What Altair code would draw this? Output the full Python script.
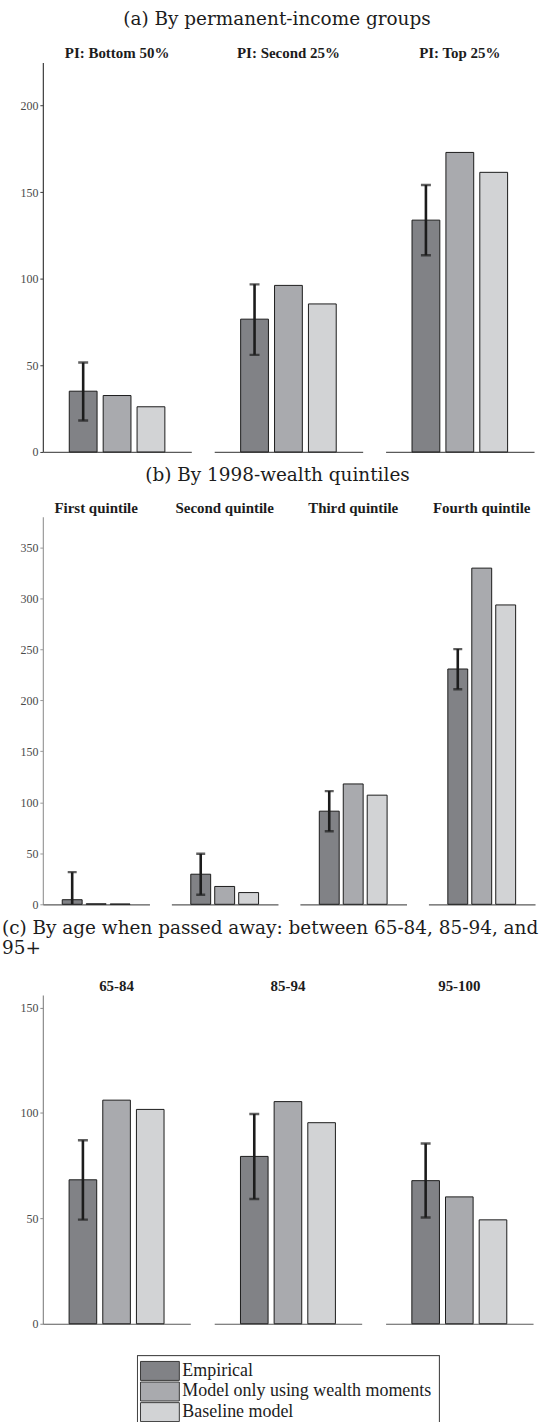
import altair as alt
import pandas as pd

# Series shown in every panel
series = ["Empirical", "Model only using wealth moments", "Baseline model"]
fills = ["#818286", "#a9aaae", "#d2d3d5"]

# (a) permanent-income groups
groups_a = ["PI: Bottom 50%", "PI: Second 25%", "PI: Top 25%"]
emp_a = [35.1, 76.7, 133.9]
emp_lo_a = [18.2, 56.1, 113.6]
emp_hi_a = [51.7, 96.8, 154.2]
model_a = [32.6, 96.2, 173.0]
base_a = [26.1, 85.5, 161.5]

# (b) 1998-wealth quintiles
groups_b = ["First quintile", "Second quintile", "Third quintile", "Fourth quintile"]
emp_b = [4.5, 29.5, 91.3, 230.7]
emp_lo_b = [-22.5, 9.4, 71.6, 210.9]
emp_hi_b = [31.5, 49.6, 111.0, 250.2]
model_b = [0.5, 17.5, 118.0, 329.6]
base_b = [0.3, 11.5, 107.0, 293.5]

# (c) age at death
groups_c = ["65-84", "85-94", "95-100"]
emp_c = [68.3, 79.4, 67.9]
emp_lo_c = [49.4, 59.2, 50.4]
emp_hi_c = [87.1, 99.5, 85.5]
model_c = [106.1, 105.4, 60.2]
base_c = [101.7, 95.4, 49.3]

SERIF = "Liberation Serif"
TITLE_FONT = "DejaVu Serif"
INK = "#1c1c1c"


def frame(groups, emp, lo, hi, model, base):
    rows = []
    for i, g in enumerate(groups):
        for s, v in zip(series, (emp[i], model[i], base[i])):
            is_emp = s == series[0]
            rows.append({"group": g, "series": s, "value": v,
                         "lo": lo[i] if is_emp else None,
                         "hi": hi[i] if is_emp else None})
    return pd.DataFrame(rows)


def section(df, groups, cell_w, cell_h, spacing, ymax, yticks,
            y_line, pad_outer, pad_inner, cap, title_params):
    x = alt.X("series:N", sort=series,
              scale=alt.Scale(paddingInner=pad_inner, paddingOuter=pad_outer),
              axis=alt.Axis(title=None, labels=False, ticks=False,
                            domainColor="#5a5a5a", domainWidth=1.2, grid=False))
    yscale = alt.Scale(domain=[0, ymax], nice=False, zero=True)
    bars = alt.Chart().mark_bar(stroke=INK, strokeWidth=1).encode(
        x=x,
        y=alt.Y("value:Q", scale=yscale,
                axis=alt.Axis(title=None, values=yticks, grid=False,
                              domainColor=y_line, domainWidth=1.2,
                              tickColor=y_line, tickSize=3, tickWidth=1,
                              labelFont=SERIF, labelFontSize=12,
                              labelColor="#4a4a4a", labelPadding=2)),
        color=alt.Color("series:N", sort=series,
                        scale=alt.Scale(domain=series, range=fills), legend=None),
    )
    emp_only = alt.datum.series == series[0]
    err = alt.Chart().transform_filter(emp_only).mark_rule(
        color=INK, strokeWidth=2.6, clip=True).encode(
        x=alt.X("series:N", sort=series), y=alt.Y("lo:Q", scale=yscale), y2="hi:Q")
    cap_lo = alt.Chart().transform_filter(emp_only).mark_tick(
        color=INK, thickness=2.4, size=cap, clip=True).encode(
        x=alt.X("series:N", sort=series), y=alt.Y("lo:Q", scale=yscale))
    cap_hi = alt.Chart().transform_filter(emp_only).mark_tick(
        color=INK, thickness=2.4, size=cap, clip=True).encode(
        x=alt.X("series:N", sort=series), y=alt.Y("hi:Q", scale=yscale))
    layered = alt.layer(bars, err, cap_lo, cap_hi, data=df).properties(
        width=cell_w, height=cell_h)
    return layered.facet(
        column=alt.Column("group:N", sort=groups, title=None,
                          header=alt.Header(labelFont=SERIF, labelFontSize=15,
                                            labelFontWeight="bold",
                                            labelColor=INK, labelPadding=1)),
        spacing=spacing,
        title=title_params,
    ).resolve_scale(x="independent")


df_a = frame(groups_a, emp_a, emp_lo_a, emp_hi_a, model_a, base_a)
df_b = frame(groups_b, emp_b, emp_lo_b, emp_hi_b, model_b, base_b)
df_c = frame(groups_c, emp_c, emp_lo_c, emp_hi_c, model_c, base_c)

title_style = dict(font=TITLE_FONT, fontSize=18.5, fontWeight="normal", color=INK)
title_a = alt.TitleParams("(a) By permanent-income groups", anchor="middle",
                          frame="bounds", offset=18, **title_style)
title_b = alt.TitleParams("(b) By 1998-wealth quintiles", anchor="middle",
                          frame="bounds", offset=16, **title_style)
title_c = alt.TitleParams(["(c) By age when passed away:  between 65-84, 85-94, and", "95+"],
                          anchor="start", frame="bounds", lineHeight=20,
                          offset=22, dx=-18, **title_style)

sec_a = section(df_a, groups_a, 149, 391, 23, 225, [0, 50, 100, 150, 200],
                "#3c3c3c", 0.78, 0.18, 10, title_a)
sec_b = section(df_b, groups_b, 107, 389, 22, 380,
                [0, 50, 100, 150, 200, 250, 300, 350],
                "#9a9a9a", 0.81, 0.17, 9, title_b)
sec_c = section(df_c, groups_c, 148, 330, 24, 156, [0, 50, 100, 150],
                "#8a8a8a", 0.78, 0.18, 10, title_c)

# Legend drawn as its own small layer, boxed
leg_df = pd.DataFrame({"series": series})
leg_scale = alt.Scale(range=[23, 85], paddingInner=0.08, paddingOuter=0.04)
box = alt.Chart(leg_df).mark_rect(fill="white", stroke="#444444", strokeWidth=1).encode(
    x=alt.value(95), x2=alt.value(398), y=alt.value(18), y2=alt.value(88))
swatch = alt.Chart(leg_df).mark_rect(stroke="#3a3a3a", strokeWidth=1).encode(
    x=alt.value(98), x2=alt.value(137),
    y=alt.Y("series:N", sort=series, axis=None, scale=leg_scale),
    color=alt.Color("series:N", sort=series,
                    scale=alt.Scale(domain=series, range=fills), legend=None))
label = alt.Chart(leg_df).mark_text(align="left", baseline="middle", font=SERIF,
                                    fontSize=18, color=INK).encode(
    x=alt.value(140),
    y=alt.Y("series:N", sort=series, axis=None, scale=leg_scale, bandPosition=0.5),
    text="series:N")
legend = alt.layer(box, swatch, label).properties(width=494, height=84)

chart = alt.vconcat(sec_a, sec_b, sec_c, legend).properties(
    padding={"left": 2, "top": 7, "right": 0, "bottom": 0},
    background="white",
).configure_view(stroke=None).configure_concat(spacing=8)

chart.save("out.html", embed_options={"renderer": "svg", "actions": False})
